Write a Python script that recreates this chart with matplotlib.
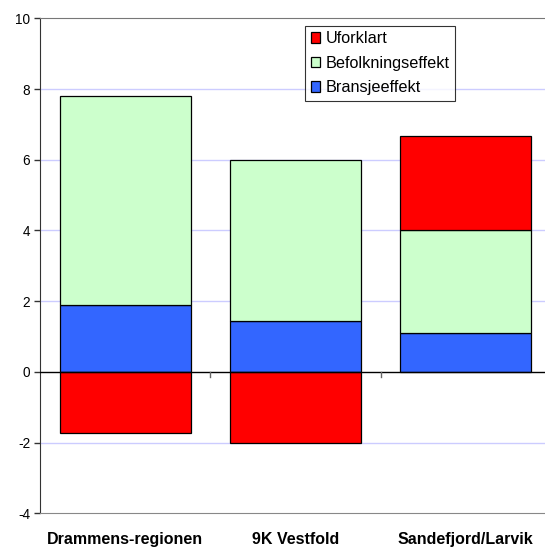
import matplotlib
matplotlib.use("Agg")
import matplotlib.pyplot as plt
import numpy as np

categories = ["Drammens-regionen", "9K Vestfold", "Sandefjord/Larvik"]
bransjeeffekt = [1.88, 1.43, 1.11]
befolkningseffekt = [5.92, 4.57, 2.91]
uforklart = [-1.74, -2.0, 2.66]
yticks = [-4, -2, 0, 2, 4, 6, 8, 10]

plt.rcParams['font.family'] = ['Liberation Sans', 'DejaVu Sans']

fig = plt.figure(figsize=(5.45, 5.48), dpi=100)
ax = fig.add_axes([40 / 545, 34.7 / 548, 511 / 545, 495 / 548])

x = np.arange(len(categories))
w = 0.77
red, green, blue = "#FF0000", "#CCFFCC", "#3366FF"
kw = dict(width=w, edgecolor="black", linewidth=0.9, zorder=3)

b1 = ax.bar(x, bransjeeffekt, color=blue, **kw)
b2 = ax.bar(x, befolkningseffekt, bottom=bransjeeffekt, color=green, **kw)
unf_bottom = [b + p if u > 0 else 0 for b, p, u in zip(bransjeeffekt, befolkningseffekt, uforklart)]
b3 = ax.bar(x, uforklart, bottom=unf_bottom, color=red, **kw)

ax.set_xlim(-0.5, 2.5)
ax.set_ylim(-4, 10)
ax.set_yticks(yticks)
ax.set_yticklabels([str(t) for t in yticks], fontsize=9.8)
for t in yticks:
    if t not in (-4, 0, 10):
        ax.axhline(t, color="#CCCCFF", linewidth=1, zorder=1)
ax.axhline(0, color="black", linewidth=1, zorder=4)

ax.spines['left'].set_color("#333333")
ax.spines['top'].set_color("#777777")
ax.spines['bottom'].set_color("#888888")
ax.spines['right'].set_visible(False)
ax.tick_params(axis='y', length=4, width=1, color="#333333", pad=3)

ax.set_xticks([0.5, 1.5], minor=False)
ax.set_xticklabels([])
ax.tick_params(axis='x', which='major', length=0)
for xi in [0.5, 1.5]:
    ax.plot([xi, xi], [0, -0.15], color="#666666", linewidth=1, zorder=4, clip_on=False)
for xi, lab in zip(x, categories):
    ax.text(xi, -4.88, lab, ha="center", va="baseline", fontsize=11.5, fontweight="bold")

leg = ax.legend([b3, b2, b1], ["Uforklart", "Befolkningseffekt", "Bransjeeffekt"],
                loc="upper left", bbox_to_anchor=(265 / 511, 1 - 7.4 / 495),
                fontsize=11.7, frameon=True, fancybox=False, edgecolor="black",
                handlelength=0.6, handleheight=0.6, handletextpad=0.3,
                borderpad=0.35, labelspacing=0.58, borderaxespad=0)
leg.get_frame().set_linewidth(0.8)

fig.savefig("out.png", dpi=100)
